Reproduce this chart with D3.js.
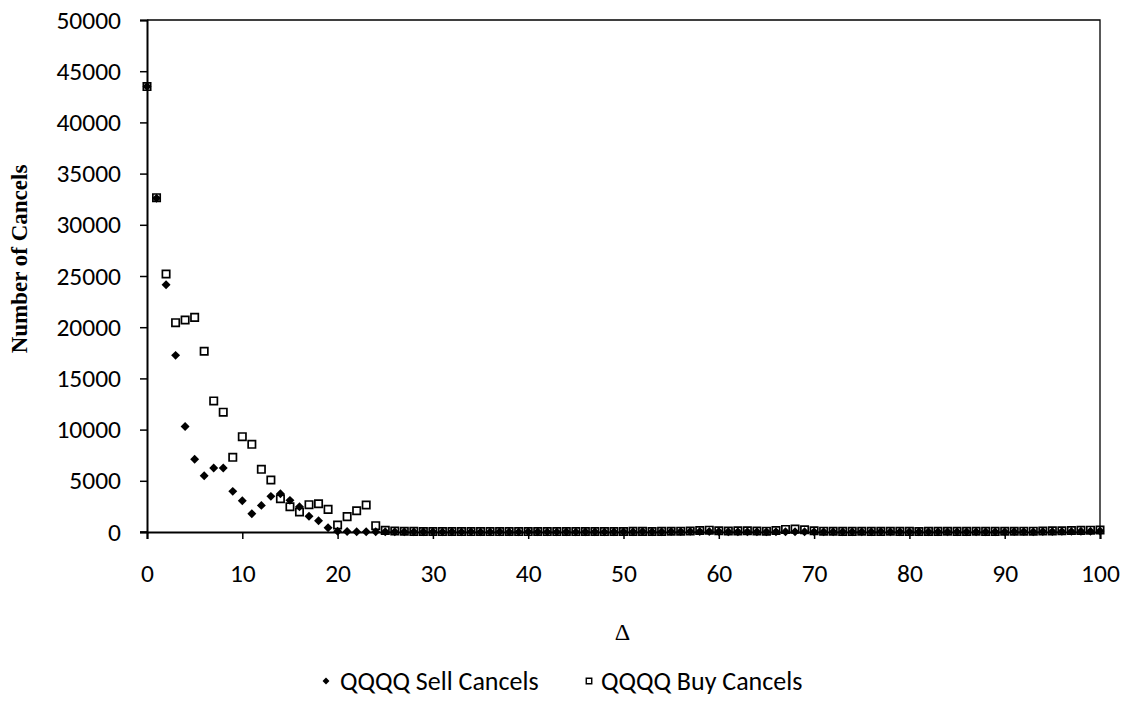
<!DOCTYPE html>
<html>
<head>
<meta charset="utf-8">
<script src="https://cdn.jsdelivr.net/npm/d3@7/dist/d3.min.js"></script>
<style>
  html, body { margin: 0; padding: 0; background: #fff; }
  svg { display: block; }
</style>
</head>
<body>
<svg id="chart" width="1121" height="719"></svg>
<script>
// ---- data ----
const deltas = d3.range(0, 101);
const sellCancels = [
  43500,32600,24150,17250,10300,7100,5500,6250,6250,3970,
  3060,1790,2600,3480,3740,3090,2470,1530,1100,420,
  70,40,30,30,30,30,20,20,20,20,
  20,10,20,10,20,10,10,20,10,10,
  20,20,10,10,20,10,20,20,10,20,
  30,30,40,30,30,40,50,60,50,40,
  40,30,30,20,30,20,20,20,30,20,
  20,30,20,30,20,20,30,40,30,30,
  20,20,20,30,20,20,30,30,20,30,
  30,40,40,30,40,50,60,60,70,80,
  90
];
const buyCancels = [
  43500,32650,25200,20440,20700,20960,17650,12800,11700,7290,
  9310,8560,6120,5080,3250,2470,1950,2670,2760,2210,
  680,1500,2080,2640,620,160,90,70,60,50,
  50,40,50,40,40,50,40,40,50,40,
  40,50,40,40,50,40,50,50,40,50,
  50,60,60,50,60,70,80,90,150,180,
  120,90,110,120,100,80,150,250,280,220,
  120,80,70,60,60,70,60,60,70,60,
  60,50,60,60,70,60,60,70,60,60,
  70,70,80,80,90,110,120,150,160,180,
  200
];
const xTicks = [0,10,20,30,40,50,60,70,80,90,100];
const yTicks = [0,5000,10000,15000,20000,25000,30000,35000,40000,45000,50000];
const seriesNames = ["QQQQ Sell Cancels", "QQQQ Buy Cancels"];
const xTitle = "\u0394";
const yTitle = "Number of Cancels";

// ---- layout ----
const svg = d3.select("#chart");
const L = 147, R = 1100, T = 20, B = 532;
const x = d3.scaleLinear().domain([0, 100]).range([L, R]);
const y = d3.scaleLinear().domain([0, 50000]).range([B, T]);
const tickFont = "Carlito, Lato, sans-serif";

// frame (top and right)
svg.append("path")
  .attr("d", `M${L},${T}H${R}V${B}`)
  .attr("fill", "none").attr("stroke", "#000").attr("stroke-width", 1.3);

// y axis
const yAxis = svg.append("g").attr("transform", `translate(${L},0)`)
  .call(d3.axisLeft(y).tickValues(yTicks).tickSize(7).tickPadding(19).tickFormat(d3.format("d")));
// x axis
const xAxis = svg.append("g").attr("transform", `translate(0,${B})`)
  .call(d3.axisBottom(x).tickValues(xTicks).tickSize(7).tickPadding(25).tickFormat(d3.format("d")));

[yAxis, xAxis].forEach(g => {
  g.select(".domain").attr("stroke", "#000").attr("stroke-width", 2);
  g.selectAll(".tick line").attr("stroke", "#000").attr("stroke-width", 1.5);
  g.selectAll(".tick text").attr("fill", "#000")
    .style("font-family", tickFont).style("font-size", "25.5px");
});
svg.append("line").attr("x1", L - 7).attr("x2", L).attr("y1", B).attr("y2", B)
  .attr("stroke", "#000").attr("stroke-width", 1.5);

// axis titles
svg.append("text")
  .attr("transform", `translate(27,259) rotate(-90)`)
  .attr("text-anchor", "middle")
  .style("font-family", "'Liberation Serif', 'Times New Roman', serif")
  .style("font-weight", "bold").style("font-size", "23px")
  .text(yTitle);
svg.append("text")
  .attr("x", x(50) - 1).attr("y", 640)
  .attr("text-anchor", "middle")
  .style("font-family", "'Liberation Serif', 'Times New Roman', serif")
  .style("font-size", "24px")
  .text(xTitle);

// markers
const diamond = d3.symbol(d3.symbolSquare, 40);
const square = d3.symbol(d3.symbolSquare, 54);

svg.append("g").selectAll("path")
  .data(deltas)
  .join("path")
  .attr("d", diamond)
  .attr("transform", d => `translate(${x(d)},${y(sellCancels[d])}) rotate(45)`)
  .attr("fill", "#000");

svg.append("g").selectAll("path")
  .data(deltas)
  .join("path")
  .attr("d", square)
  .attr("transform", d => `translate(${x(d)},${y(buyCancels[d])})`)
  .attr("fill", "none").attr("stroke", "#000").attr("stroke-width", 1.7);

// legend
const lg = svg.append("g").style("font-family", tickFont).style("font-size", "26px");
lg.append("path").attr("d", d3.symbol(d3.symbolSquare, 24))
  .attr("transform", "translate(326,681) rotate(45)").attr("fill", "#000");
lg.append("text").attr("x", 340).attr("y", 690).text(seriesNames[0]);
lg.append("path").attr("d", d3.symbol(d3.symbolSquare, 30))
  .attr("transform", "translate(589,681)")
  .attr("fill", "none").attr("stroke", "#000").attr("stroke-width", 1.4);
lg.append("text").attr("x", 601).attr("y", 690).text(seriesNames[1]);
</script>
</body>
</html>
